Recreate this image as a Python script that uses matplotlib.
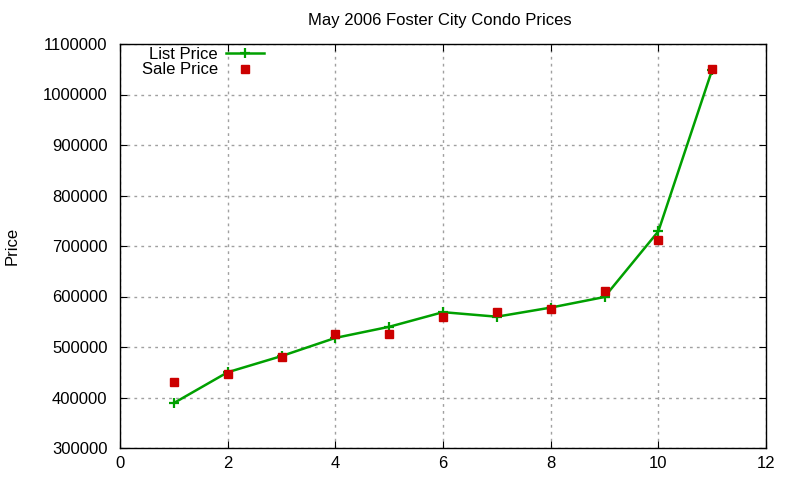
import matplotlib.pyplot as plt
from matplotlib.ticker import FuncFormatter

plt.rcParams['font.family'] = ['Liberation Sans', 'DejaVu Sans']

months = [1, 2, 3, 4, 5, 6, 7, 8, 9, 10, 11]
list_price = [389000, 450000, 482000, 518000, 540000, 569000, 560000, 578000, 599000, 729000, 1049000]
sale_price = [430000, 447000, 480000, 525000, 526000, 560000, 569000, 575000, 610000, 712000, 1050000]

x_ticks = [0, 2, 4, 6, 8, 10, 12]
y_ticks = [300000, 400000, 500000, 600000, 700000, 800000, 900000, 1000000, 1100000]


def plot_prices():
    fig = plt.figure(figsize=(8, 4.8), dpi=100)
    ax = fig.add_axes([120 / 800, 1 - 448 / 480, 646 / 800, 404 / 480])

    ax.plot(months, list_price, color='#00a000', linewidth=1.8, marker='+',
            markersize=7, markeredgewidth=1.6, label='List Price', zorder=3)
    ax.plot(months, sale_price, linestyle='none', color='#cc0000', marker='s',
            markersize=6, label='Sale Price', zorder=4)

    ax.set_xlim(0, 12)
    ax.set_ylim(300000, 1100000)
    ax.set_xticks(x_ticks)
    ax.set_yticks(y_ticks)
    ax.yaxis.set_major_formatter(FuncFormatter(lambda v, p: f'{int(v)}'))
    ax.tick_params(direction='in', top=True, right=True, length=5, labelsize=12)
    ax.tick_params(axis='x', pad=6)
    ax.tick_params(axis='y', pad=9)
    ax.grid(True, linestyle=(0, (2, 3)), color='#a0a0a0', linewidth=1)
    for spine in ax.spines.values():
        spine.set_linewidth(1)

    fig.text(440 / 800, 1 - 21 / 480, 'May 2006 Foster City Condo Prices',
             ha='center', va='center', fontsize=12)
    fig.text(12 / 800, 1 - 246 / 480, 'Price', rotation=90,
             ha='center', va='center', fontsize=12)

    ax.legend(loc='upper left', bbox_to_anchor=(0.023, 1.01), frameon=False,
              markerfirst=False, fontsize=12, handlelength=2.3,
              handletextpad=0.5, labelspacing=0.05, borderaxespad=0)

    fig.savefig('out.png', dpi=100)


if __name__ == "__main__":
    plot_prices()
